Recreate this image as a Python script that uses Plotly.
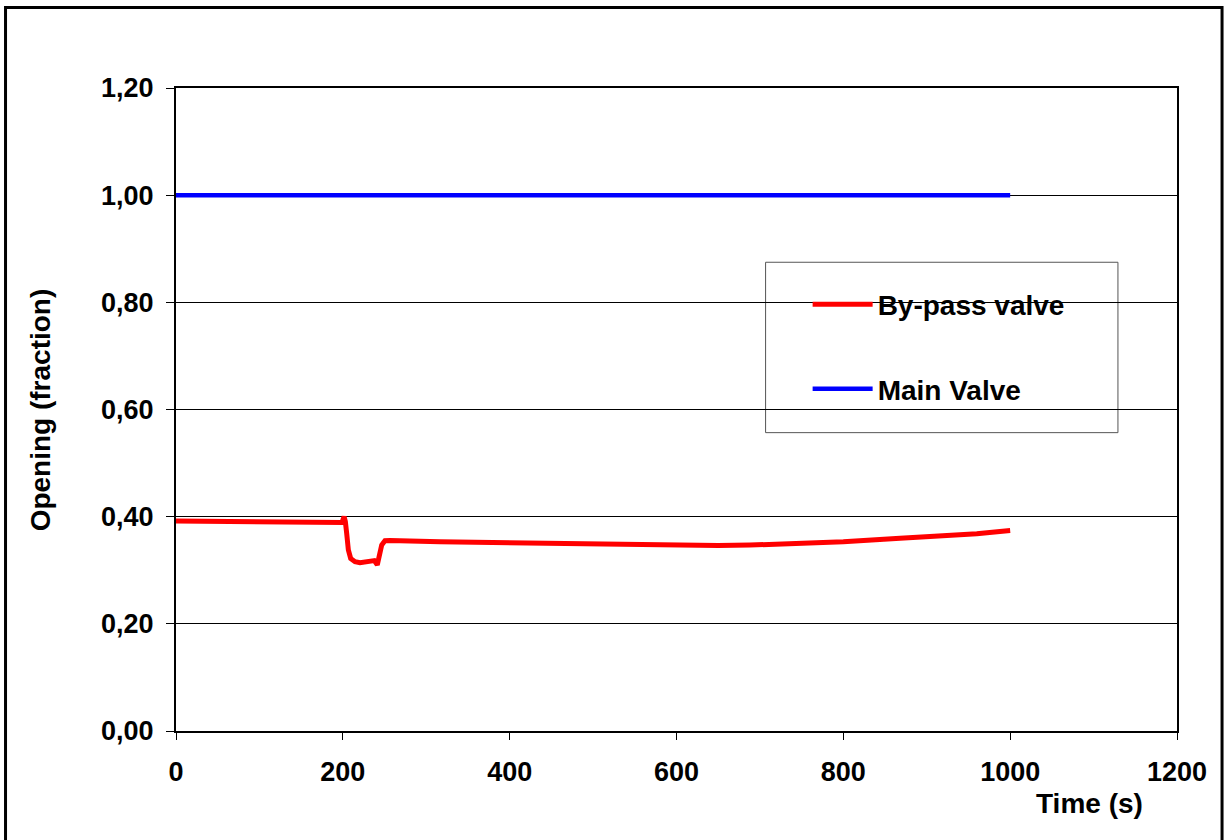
import plotly.graph_objects as go

# valve openings
time_bypass = [0, 50, 100, 150, 199, 201.5, 203, 204.6, 206.6, 209.4, 214.6, 220.6, 226, 232.6,
               237.7, 241.3, 243.8, 246.6, 250.5, 256.5, 316.5, 436, 500, 550, 624, 650, 688,
               748, 800, 868, 920, 960, 1000]
opening_bypass = [0.392, 0.391, 0.390, 0.389, 0.389, 0.400, 0.391, 0.369, 0.338, 0.322, 0.316,
                  0.314, 0.315, 0.317, 0.318, 0.310, 0.332, 0.347, 0.355, 0.3555, 0.353, 0.350,
                  0.349, 0.348, 0.3466, 0.3462, 0.347, 0.350, 0.353, 0.3597, 0.364, 0.368, 0.374]
time_main = [0, 250, 500, 750, 1000]
opening_main = [1.0, 1.0, 1.0, 1.0, 1.0]

y_ticks = [0, 0.2, 0.4, 0.6, 0.8, 1.0, 1.2]
x_ticks = [0, 200, 400, 600, 800, 1000, 1200]

font = dict(family="Liberation Sans, Arial", size=27, color="black", weight="bold")
title_font = dict(family="Liberation Sans, Arial", size=28, color="black", weight="bold")

fig = go.Figure()
fig.add_trace(go.Scatter(x=time_bypass, y=opening_bypass, mode="lines", name="By-pass valve",
                         line=dict(color="#ff0000", width=5), legendgroup="a"))
fig.add_trace(go.Scatter(x=time_main, y=opening_main, mode="lines", name="Main Valve",
                         line=dict(color="#0000ff", width=4.5), legendgroup="b"))

fig.update_layout(
    width=1227, height=840,
    margin=dict(l=176, r=50, t=88, b=109),
    paper_bgcolor="white", plot_bgcolor="white",
    font=font,
    separators=", ",
    showlegend=True,
    legend=dict(x=0.631, y=0.702, xanchor="left", yanchor="top", bgcolor="rgba(0,0,0,0)",
                font=title_font, tracegroupgap=45, itemwidth=60),
)
fig.update_xaxes(range=[0, 1200], tickvals=x_ticks, showgrid=False, zeroline=False,
                 showline=True, linecolor="black", linewidth=2, mirror=True,
                 ticks="outside", ticklen=7, tickcolor="black", tickwidth=1,
                 ticklabelstandoff=9, tickfont=font)
fig.update_yaxes(range=[0, 1.2], tickvals=y_ticks, tickformat=".2f", showgrid=True,
                 gridcolor="black", gridwidth=1, zeroline=False,
                 showline=True, linecolor="black", linewidth=2, mirror=True,
                 ticks="outside", ticklen=8, tickcolor="black", tickwidth=1,
                 ticklabelstandoff=7, tickfont=font)

# axis titles
fig.add_annotation(text="Time (s)", xref="paper", yref="paper", x=0.913, y=-0.112,
                   xanchor="center", yanchor="middle", showarrow=False, font=title_font)
fig.add_annotation(text="Opening (fraction)", xref="paper", yref="paper", x=-0.135, y=0.5,
                   xanchor="center", yanchor="middle", textangle=-90, showarrow=False,
                   font=title_font)

# legend box and outer frame
fig.add_shape(type="rect", xref="paper", yref="paper", x0=0.589, x1=0.941, y0=0.464, y1=0.729,
              line=dict(color="#555555", width=1), fillcolor="white", layer="below")
fig.add_shape(type="rect", xref="paper", yref="paper", x0=-0.1703, x1=1.045, y0=-0.18, y1=1.1252,
              line=dict(color="black", width=3))

fig.write_html("out.html", config={"displayModeBar": False},
               post_script="document.body.style.margin='0';")
